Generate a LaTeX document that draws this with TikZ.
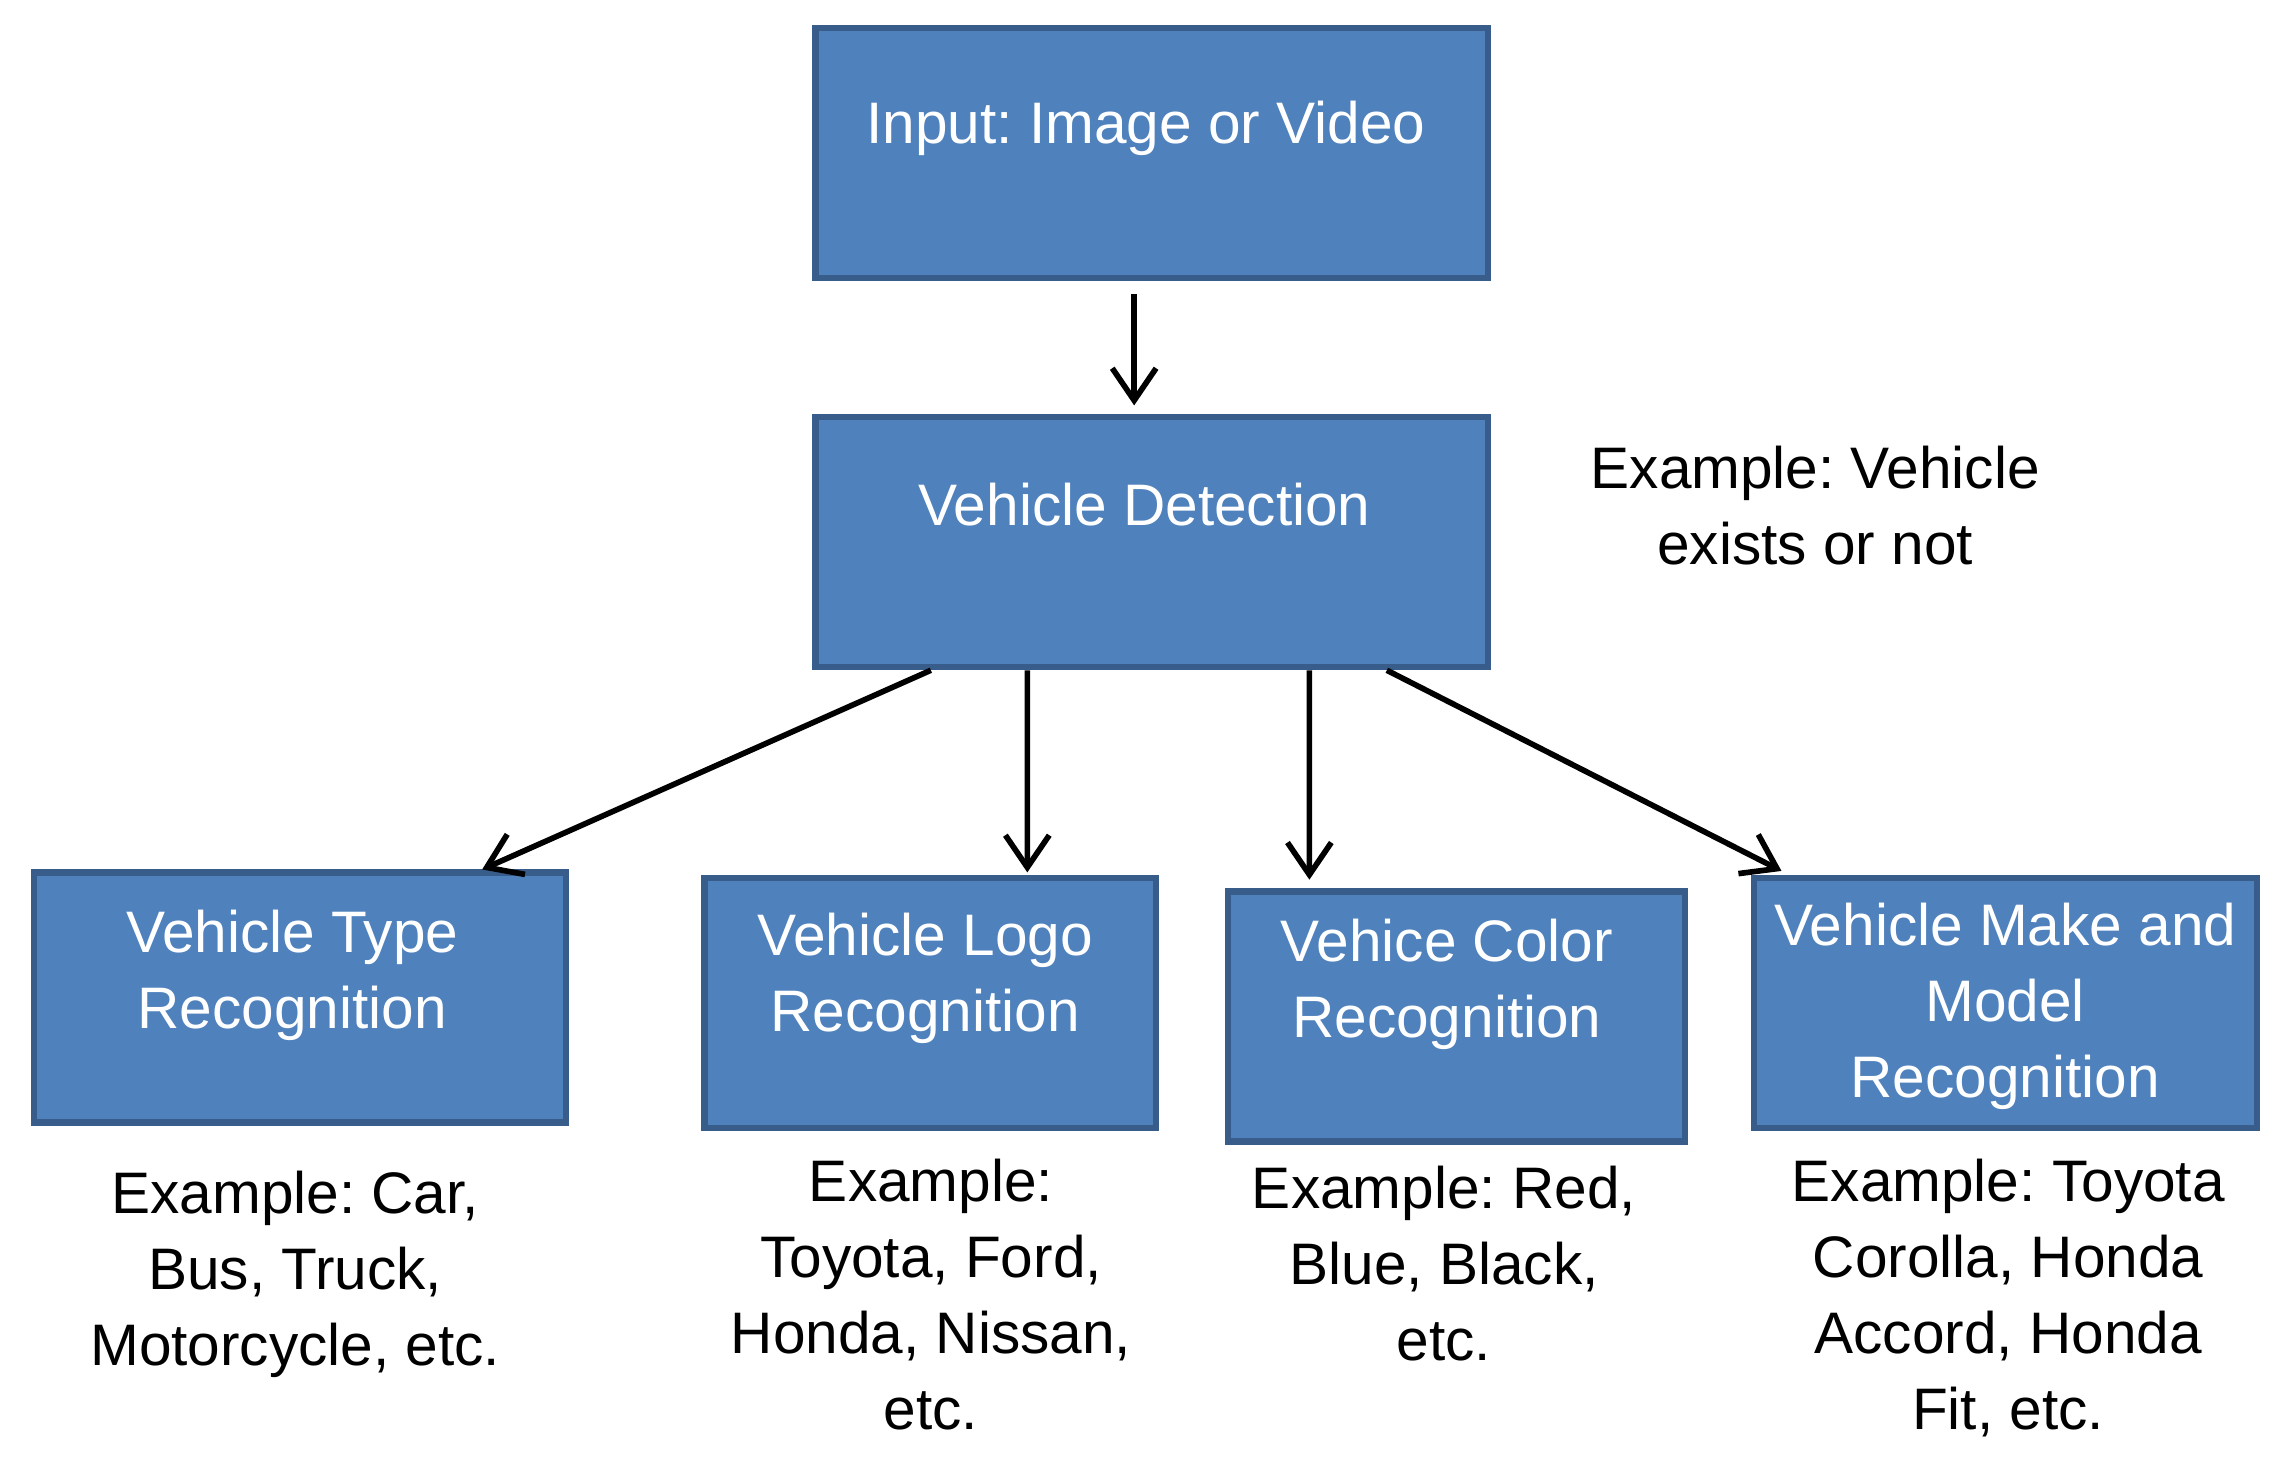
\documentclass[tikz,border=0pt]{standalone}
\usepackage{fontspec}
\setmainfont{Liberation Sans}
\usetikzlibrary{arrows.meta}
\frenchspacing

\definecolor{boxblue}{HTML}{4F81BD}
\definecolor{boxedge}{HTML}{385D8A}

\tikzset{
	blk/.style={draw=boxedge, line width=1.2pt, fill=boxblue, minimum width=#1, minimum height=1.71cm, inner sep=0pt},
	blktxt/.style={text=white, align=center, inner sep=0pt, font=\fontsize{11.4}{14.8}\selectfont},
	extxt/.style={text=black, align=center, inner sep=0pt, font=\fontsize{11.4}{14.8}\selectfont},
	arr/.style={-{Straight Barb[length=2.2mm,width=3mm]}, line width=1.1pt}
}

\begin{document}
\begin{tikzpicture}
		\useasboundingbox (0,0) rectangle (15.6,-9.983);

		\node[blk=4.60cm] at (7.88,-1.045) (inp) {};
		\node[blktxt] at (7.84,-0.875) (inptxt) {Input: Image or Video};

		\node[blk=4.60cm] at (7.88,-3.71) (det) {};
		\node[blktxt] at (7.83,-3.451) (dettxt) {Vehicle Detection};
		\node[extxt] at (12.42,-3.458) (detex) {Example: Vehicle\\exists or not};

		\draw[arr] ([xshift=-0.12cm,yshift=-0.09cm]inp.south) -- ([xshift=-0.12cm,yshift=0.06cm]det.north);

		\node[blk=3.64cm] at (2.05,-6.825) (type) {};
		\node[blktxt] at (2.00,-6.673) (typetxt) {Vehicle Type\\Recognition};
		\node[extxt] at (2.02,-8.717) (typeex) {Example: Car,\\Bus, Truck,\\Motorcycle, etc.};

		\node[blk=3.09cm] at (6.365,-6.865) (logo) {};
		\node[blktxt] at (6.33,-6.693) (logotxt) {Vehicle Logo\\Recognition};
		\node[extxt] at (6.37,-8.858) (logoex) {Example:\\Toyota, Ford,\\Honda, Nissan,\\etc.};

		\node[blk=3.13cm] at (9.965,-6.955) (color) {};
		\node[blktxt] at (9.90,-6.733) (colortxt) {Vehice Color\\Recognition};
		\node[extxt] at (9.88,-8.648) (colorex) {Example: Red,\\Blue, Black,\\etc.};

		\node[blk=3.44cm] at (13.72,-6.865) (make) {};
		\node[blktxt] at (13.72,-6.887) (maketxt) {Vehicle Make and\\Model\\Recognition};
		\node[extxt] at (13.74,-8.884) (makeex) {Example: Toyota\\Corolla, Honda\\Accord, Honda\\Fit, etc.};

		\draw[arr] ([xshift=0.81cm]det.south west) -- ([xshift=3.09cm]type.north west);
		\draw[arr] ([xshift=1.47cm]det.south west) -- ([xshift=2.23cm,yshift=0.02cm]logo.north west);
		\draw[arr] ([xshift=3.40cm]det.south west) -- ([xshift=0.58cm,yshift=0.06cm]color.north west);
		\draw[arr] ([xshift=3.93cm]det.south west) -- ([xshift=0.21cm,yshift=0.03cm]make.north west);
\end{tikzpicture}
\end{document}
